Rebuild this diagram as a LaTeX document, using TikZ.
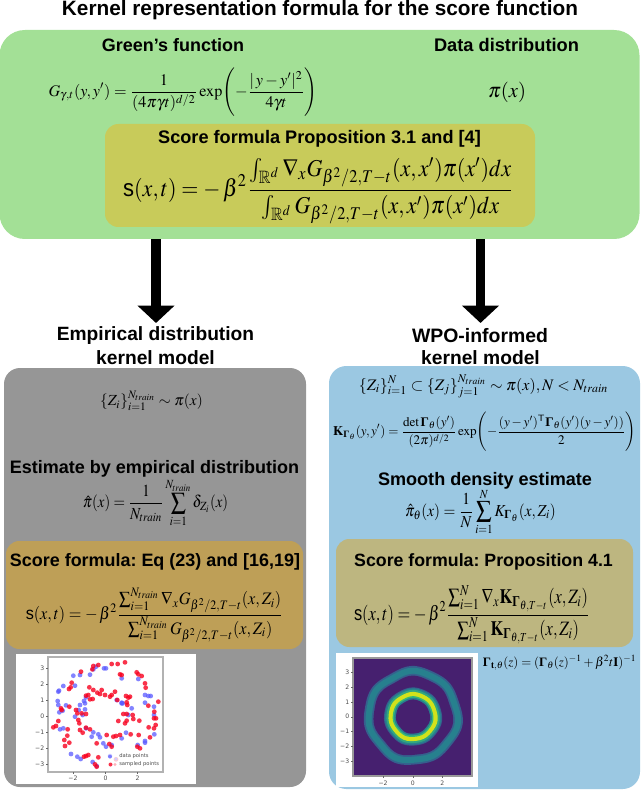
\documentclass[tikz,border=0pt]{standalone}
\usepackage{amsmath,amssymb}
\usepackage{mathptmx}
\usepackage[no-math]{fontspec}
\setmainfont{Liberation Sans}
\setsansfont{Liberation Sans}
\newfontfamily\tickf{DejaVu Sans}
\newfontfamily\serifb{Liberation Serif}
\newcommand\bG{\text{\serifb\bfseries Γ}}
\frenchspacing
\usetikzlibrary{arrows.meta}
\definecolor{cgreen}{HTML}{A3E096}
\definecolor{colive}{HTML}{C8CB5A}
\definecolor{cgrey}{HTML}{969696}
\definecolor{cgold}{HTML}{BE9F57}
\definecolor{cblue}{HTML}{9BC8E2}
\definecolor{ctan}{HTML}{BDB680}
\definecolor{vpurple}{HTML}{46206F}
\definecolor{vblue}{HTML}{35608D}
\definecolor{vteal}{HTML}{27808E}
\definecolor{vgreen}{HTML}{35B779}
\definecolor{vyellow}{HTML}{D2E21B}
\definecolor{pblue}{HTML}{5A5AFF}
\definecolor{pred}{HTML}{F8001E}
\tikzset{
  panel/.style={rectangle,inner sep=0pt,draw=none},
  txt/.style={inner sep=0pt,outer sep=0pt,font=\bfseries,text=black},
  frm/.style={inner sep=0pt,outer sep=0pt,text=black},
  bigarrow/.style={line width=7.3pt,-{Triangle[length=13pt,width=27pt]}},
  tick/.style={inner sep=0pt,font=\tickf\fontsize{4.6pt}{5pt}\selectfont,text=black!70},
  spine/.style={draw=black!30,line width=0.8pt},
  bluept/.style={fill=pblue,fill opacity=.75},
  redpt/.style={fill=pred,fill opacity=.8},
}
\newcommand\wring[5]{\fill[#1] plot[smooth cycle,domain=0:352,samples=45,variable=\t]
 ({#3+(#2+#4*sin(7*\t+20)+.7*#4*sin(4*\t+40))*cos(\t)},{#5+(#2+#4*sin(7*\t+20)+.7*#4*sin(4*\t+40))*sin(\t)});}
\begin{document}
\begin{tikzpicture}[x=0.75pt,y=-0.75pt]
\useasboundingbox (0,0) rectangle (640,791);
% panels
\node[panel,fill=cgreen,rounded corners=19pt,minimum width=480pt,minimum height=156.75pt] (green) at (319.5,134.5) {};
\node[panel,fill=colive,rounded corners=10pt,minimum width=322.5pt,minimum height=77.25pt] (olive) at (320,175.5) {};
\node[panel,fill=cgrey,rounded corners=12pt,minimum width=226.5pt,minimum height=314.25pt] (grey) at (155,577.5) {};
\node[panel,fill=cgold,rounded corners=10pt,minimum width=222.75pt,minimum height=81pt] (gold) at (154.5,595) {};
\node[panel,fill=cblue,rounded corners=13pt,minimum width=233.25pt,minimum height=317.25pt] (blue) at (484.5,577.5) {};
\node[panel,fill=ctan,rounded corners=10pt,minimum width=222.75pt,minimum height=81pt] (tan) at (484.5,593) {};
% arrows
\coordinate (a1e) at (156,323);
\coordinate (a2e) at (480.5,323);
\draw[bigarrow] (green.south -| a1e) -- (a1e);
\draw[bigarrow] (green.south -| a2e) -- (a2e);
% headings
\node[txt] (title) at (320,10) {\resizebox{387pt}{!}{Kernel representation formula for the score function}};
\node[txt] (h1) at (173,45) {\resizebox{106.5pt}{!}{Green’s function}};
\node[txt] (h2) at (506.5,45) {\resizebox{108.7pt}{!}{Data distribution}};
\node[txt] (h3) at (319.5,139) {\resizebox{242pt}{!}{Score formula Proposition 3.1 and [4]}};
\node[txt] (e1) at (155.5,336) {\resizebox{148pt}{!}{Empirical distribution}};
\node[txt] (e2) at (155.5,357.5) {\resizebox{89pt}{!}{kernel model}};
\node[txt] (w1) at (480,336) {\resizebox{102pt}{!}{WPO-informed}};
\node[txt] (w2) at (480.5,357.5) {\resizebox{89pt}{!}{kernel model}};
\node[txt] (h4) at (154.5,469) {\resizebox{217pt}{!}{Estimate by empirical distribution}};
\node[txt] (h5) at (155,562) {\resizebox{217.5pt}{!}{Score formula: Eq (23) and [16,19]}};
\node[txt] (h6) at (485,481) {\resizebox{160.5pt}{!}{Smooth density estimate}};
\node[txt] (h7) at (483.5,562) {\resizebox{194pt}{!}{Score formula: Proposition 4.1}};
% formulas
\node[frm] (f1) at (183,92) {\resizebox{201.7pt}{!}{$\displaystyle G_{\gamma,t}(y,y')=\frac{1}{(4\pi\gamma t)^{d/2}}\exp\Biggl(-\frac{|\,y-y'|^2}{4\gamma t}\Biggr)$}};
\node[frm] (f2) at (507,92) {\resizebox{28.5pt}{!}{$\pi(x)$}};
\node[frm] (f3) at (318.5,191) {\resizebox*{293pt}{50pt}{$\displaystyle \mbox{\sffamily s}(x,t)=-\,\beta^2\frac{\int_{\mathbb{R}^d}\nabla_x G_{\beta^2/2,T-t}(x,x')\pi(x')dx}{\int_{\mathbb{R}^d} G_{\beta^2/2,T-t}(x,x')\pi(x')dx}$}};
\node[frm] (f4) at (151.5,401) {\resizebox{77pt}{!}{$\displaystyle \{Z_i\}_{i=1}^{N_{train}}\sim\pi(x)$}};
\node[frm] (f5) at (155.5,503) {\resizebox*{109pt}{36pt}{$\displaystyle \hat\pi(x)=\frac{1}{N_{train}}\sum_{i=1}^{N_{train}}\delta_{Z_i}(x)$}};
\node[frm] (f6) at (154.5,615) {\resizebox*{193pt}{41pt}{$\displaystyle \mbox{\sffamily s}(x,t)=-\,\beta^2\frac{\sum\nolimits_{i=1}^{N_{train}}\nabla_x G_{\beta^2/2,T-t}(x,Z_i)}{\sum\nolimits_{i=1}^{N_{train}} G_{\beta^2/2,T-t}(x,Z_i)}$}};
\node[frm] (f7) at (483.5,386) {\resizebox{187pt}{!}{$\displaystyle \{Z_i\}_{i=1}^{N}\subset\{Z_j\}_{j=1}^{N_{train}}\sim\pi(x),N<N_{train}$}};
\node[frm] (f8) at (484.5,432) {\resizebox{227pt}{!}{$\displaystyle \mathbf{K}_{\bG_\theta}(y,y')=\frac{\det\bG_\theta(y')}{(2\pi)^{d/2}}\exp\Biggl(-\frac{(y-y')^{\mathsf{T}}\bG_\theta(y')(y-y'))}{2}\Biggr)$}};
\node[frm] (f9) at (480.5,512) {\resizebox*{113pt}{35pt}{$\displaystyle \hat\pi_\theta(x)=\frac{1}{N}\sum_{i=1}^{N}K_{\bG_\theta}(x,Z_i)$}};
\node[frm] (f10) at (472,615) {\resizebox*{177pt}{44pt}{$\displaystyle \mbox{\sffamily s}(x,t)=-\,\beta^2\frac{\sum\nolimits_{i=1}^{N}\nabla_x\mathbf{K}_{\bG_{\theta,T-t}}(x,Z_i)}{\sum\nolimits_{i=1}^{N}\mathbf{K}_{\bG_{\theta,T-t}}(x,Z_i)}$}};
\node[frm] (f11) at (559.5,663) {\resizebox{115pt}{!}{$\bG_{\mathbf{t},\theta}(z)=(\bG_\theta(z)^{-1}+\beta^2 t\mathbf{I})^{-1}$}};
% left plot
\fill[white] (16,654) rectangle (196,784);
\begin{scope}
\clip (48,657) rectangle (163,772);
\foreach \X/\Y in {220/107,240/105,270/104,190/138,225/137,177/152,175/155,173/183,175/195,198/196,178/217,188/212,240/195,252/183,258/172,255/190,236/210,225/230,255/208,248/225,180/268,190/265,258/265,280/277,295/283,300/292,275/290,310/310,318/320,335/315,213/342,232/350,242/357,278/366,290/378,365/190,395/205,385/225,365/115,415/117,435/165,445/168,452/168,435/188,462/200,462/225,435/303,435/308,463/283,413/315,365/295,378/278,350/180,312/85,318/85,288/80,280/88,330/348,365/188,368/190}
  \fill[bluept] ({\X/3},{640+\Y/3}) circle (2.4);
\foreach \X/\Y in {335/72,353/72,375/67,295/75,280/78,277/88,243/95,360/103,365/105,410/97,415/103,425/108,435/130,437/143,215/128,212/142,207/147,268/142,280/150,258/167,265/165,270/178,278/177,292/158,300/162,305/150,315/165,330/170,345/155,335/165,378/168,390/170,385/173,352/180,380/187,382/195,475/185,445/197,463/215,183/205,185/210,208/200,228/210,232/220,245/220,258/222,235/240,238/250,370/222,380/222,398/225,400/237,380/242,375/250,355/243,418/242,468/235,462/235,467/255,446/262,462/265,416/285,450/292,392/283,175/243,160/262,168/258,203/268,202/287,193/300,195/318,208/308,240/270,248/278,258/263,270/268,290/310,320/285,340/290,348/288,360/285,328/312,335/320,258/348,252/350,265/345,295/352,285/373,290/380,348/358,420/325,412/320}
  \fill[redpt] ({\X/3},{640+\Y/3}) circle (2.4);
\fill[white,fill opacity=.75,rounded corners=1pt] (102,753) rectangle (161,769.5);
\fill[bluept] (110,756.5) circle (2);
\fill[pblue!30] (116,759) circle (1.6);
\fill[redpt] (110.5,764.5) circle (2);
\fill[pred!30] (115,764.5) circle (1.6);
\end{scope}
\node[tick,font=\tickf\fontsize{3.9pt}{5pt}\selectfont,anchor=west] (lg1) at (119,756.5) {data points};
\node[tick,font=\tickf\fontsize{3.9pt}{5pt}\selectfont,anchor=west] (lg2) at (119,764.5) {sampled points};
\draw[spine] (48,657) rectangle (163,772);
\foreach \v/\yy in {3/668,2/684,1/700,0/716,-1/732,-2/748,-3/764}{
  \draw[black!60,line width=.3pt] (48,\yy) -- (46,\yy);
  \node[tick,anchor=east] at (44.5,\yy) {\ifnum\v<0 −\the\numexpr-\v\relax\else\v\fi};
}
\foreach \v/\xx in {-2/73,0/105.5,2/137.5}{
  \draw[black!60,line width=.3pt] (\xx,772) -- (\xx,774);
  \node[tick] at (\xx,778) {\ifnum\v<0 −\the\numexpr-\v\relax\else\v\fi};
}
% right plot
\fill[white] (336,653) rectangle (478,787);
\fill[vpurple] (353,658) rectangle (472,776);
\wring{vblue}{49}{413}{.8}{716}
\wring{vteal}{47.2}{413}{.8}{716}
\wring{vblue}{41}{413}{.8}{716}
\wring{vpurple}{39.3}{413}{.8}{716}
\wring{vblue}{29}{413}{.25}{716.7}
\wring{vteal}{28}{413}{.25}{716.7}
\wring{vgreen!70!vteal}{26.5}{413}{.25}{716.7}
\wring{vyellow}{24.5}{413}{.25}{716.7}
\wring{vgreen}{20.3}{413}{.2}{716.7}
\wring{vteal}{18.7}{413}{.2}{716.7}
\wring{vpurple}{17}{413}{.2}{716.7}
\draw[spine,draw=black!40] (353,658) rectangle (472,776);
\foreach \v in {-3,-2,-1,0,1,2,3}{
  \draw[black!60,line width=.3pt] (353,716.7-14.8*\v) -- (351,716.7-14.8*\v);
  \node[tick,anchor=east] at (349.5,716.7-14.8*\v) {\ifnum\v<0 −\the\numexpr-\v\relax\else\v\fi};
}
\foreach \v in {-2,0,2}{
  \draw[black!60,line width=.3pt] (412.7+14.8*\v,776) -- (412.7+14.8*\v,778);
  \node[tick] at (412.7+14.8*\v,783) {\ifnum\v<0 −\the\numexpr-\v\relax\else\v\fi};
}
\end{tikzpicture}
\end{document}
